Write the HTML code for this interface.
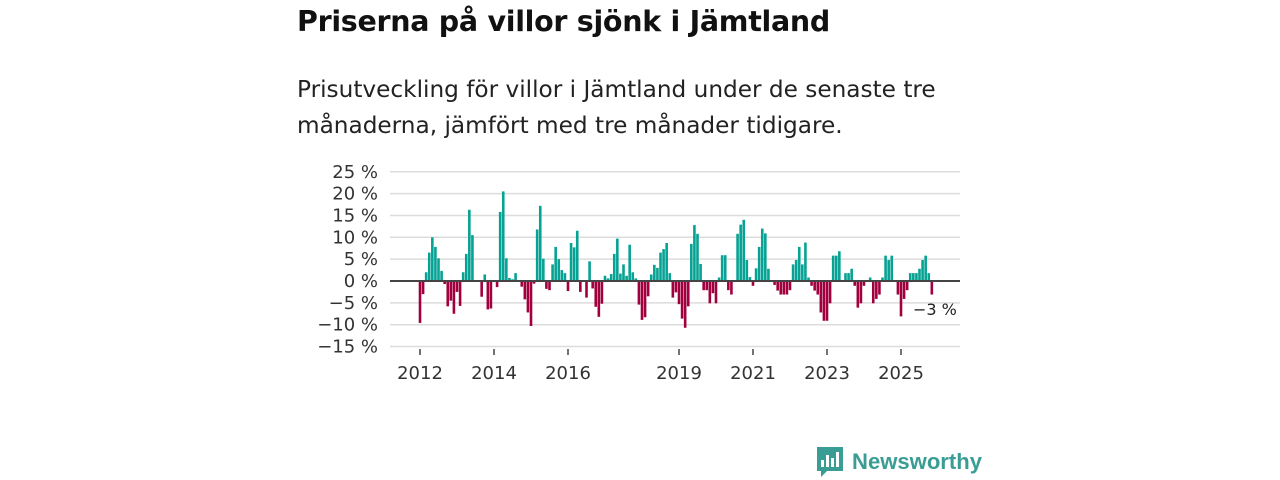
<!DOCTYPE html>
<html><head><meta charset="utf-8">
<style>
body{margin:0;width:1280px;height:480px;background:#fff;font-family:"Liberation Sans","DejaVu Sans",sans-serif;position:relative;overflow:hidden}
#title{position:absolute;left:297px;top:5px;font-size:28.5px;font-weight:bold;color:#111;font-family:"DejaVu Sans","Liberation Sans",sans-serif;letter-spacing:-0.3px}
#sub{position:absolute;left:297px;top:72px;font-size:23.2px;line-height:36px;color:#222;font-family:"DejaVu Sans","Liberation Sans",sans-serif;width:700px}
svg{position:absolute;left:0;top:0}
</style></head><body>
<div id="title">Priserna på villor sjönk i Jämtland</div>
<div id="sub">Prisutveckling för villor i Jämtland under de senaste tre<br>månaderna, jämfört med tre månader tidigare.</div>
<svg id="chart" width="1280" height="480"></svg>
<script>
const startYear = 2012;
const values = [-9.6,-3,2,6.5,10,7.8,5.2,2.3,-0.7,-5.8,-4.5,-7.5,-2.5,-5.7,2,6.2,16.3,10.5,0,0,-3.6,1.5,-6.5,-6.3,0,-1.4,15.8,20.5,5.2,0.7,0.4,1.8,0,-1.3,-4.2,-7.2,-10.3,-0.6,11.8,17.2,5.1,-1.8,-2.1,3.8,7.8,5,2.5,1.8,-2.3,8.7,7.7,11.5,-2.5,0,-3.8,4.5,-1.7,-5.9,-8.2,-5.2,1.2,0.6,1.6,6.2,9.7,1.7,3.8,1.2,8.3,2,0.6,-5.4,-8.9,-8.3,-3.5,1.5,3.7,3,6.5,7.3,8.7,1.8,-3.8,-2.6,-5.3,-8.6,-10.7,-5.8,8.5,12.8,10.8,3.9,-2.1,-2.1,-5.1,-2.8,-5.1,0.8,5.9,5.9,-2.1,-3.1,0,10.8,12.9,14,4.8,0.9,-1.1,2.9,7.8,12,10.9,2.8,0,-0.9,-2.2,-3.1,-3.1,-3.1,-2.1,3.8,4.8,7.8,3.8,8.8,0.8,-1.1,-2.2,-3.1,-7.2,-9.1,-9.1,-5.1,5.8,5.8,6.8,0,1.8,1.8,2.8,-1.1,-6.1,-5.1,-1.1,0,0.8,-5.1,-4.1,-3.1,0.8,5.8,4.8,5.8,0,-3.1,-8.1,-4.1,-2.1,1.8,1.8,1.8,2.8,4.8,5.8,1.8,-3.1];
const yTicks = [25,20,15,10,5,0,-5,-10,-15];
const xTickYears = [2012,2014,2016,2019,2021,2023,2025];
const lastLabel = "−3 %";

const NS="http://www.w3.org/2000/svg";
const svg=document.getElementById('chart');
const x0=420, monthW=37/12, zeroY=281, pxPer=4.37;
function xScale(i){return x0+i*monthW;}
function yScale(v){return zeroY-v*pxPer;}
function el(t,a){const e=document.createElementNS(NS,t);for(const k in a)e.setAttribute(k,a[k]);svg.appendChild(e);return e;}

yTicks.forEach(v=>{
  const g=el('line',{x1:390,x2:960,y1:yScale(v),y2:yScale(v),stroke:'#dcdcdc','stroke-width':1.5});
  
  
  const t=el('text',{x:378,y:yScale(v)+6,'text-anchor':'end','font-size':18,fill:'#333','font-family':'"DejaVu Sans","Liberation Sans",sans-serif'});
  t.textContent=(v<0?'−'+(-v):v)+' %';
  
  
});
values.forEach((v,i)=>{
  if(v===0)return;
  const y=Math.min(yScale(v),zeroY), h=Math.abs(yScale(v)-zeroY);
  const r=el('rect',{x:xScale(i)-1.3,y:y,width:2.6,height:h,fill:v>0?'#06a293':'#a1003f'});
  
  
});
const z=el('line',{x1:390,x2:960,y1:zeroY,y2:zeroY,stroke:'#444','stroke-width':2});


xTickYears.forEach(yr=>{
  const x=xScale((yr-startYear)*12);
  const tk=el('line',{x1:x,x2:x,y1:349,y2:355,stroke:'#444','stroke-width':1.5});
  
  
  const t=el('text',{x:x,y:379,'text-anchor':'middle','font-size':18,fill:'#333','font-family':'"DejaVu Sans","Liberation Sans",sans-serif'});
  t.textContent=yr;
  
  
});
const la=el('text',{x:913,y:315,'font-size':16,fill:'#222','font-family':'"DejaVu Sans","Liberation Sans",sans-serif'});
la.textContent=lastLabel;


</script>
<svg width="1280" height="480">
  <path d="M817 447 h26 v24 h-16 l-6 6 v-6 h-4 z" fill="#3a9d94"/>
  <rect x="821" y="460" width="3" height="7" fill="#fff"/>
  <rect x="826" y="455" width="3" height="12" fill="#fff"/>
  <rect x="831" y="458" width="3" height="9" fill="#fff"/>
  <rect x="836" y="452" width="3" height="15" fill="#fff"/>
  <text x="852" y="469" font-size="22" font-weight="bold" fill="#3a9d94" font-family="'Liberation Sans','DejaVu Sans',sans-serif" textLength="130" lengthAdjust="spacingAndGlyphs">Newsworthy</text>
</svg>
</body></html>
